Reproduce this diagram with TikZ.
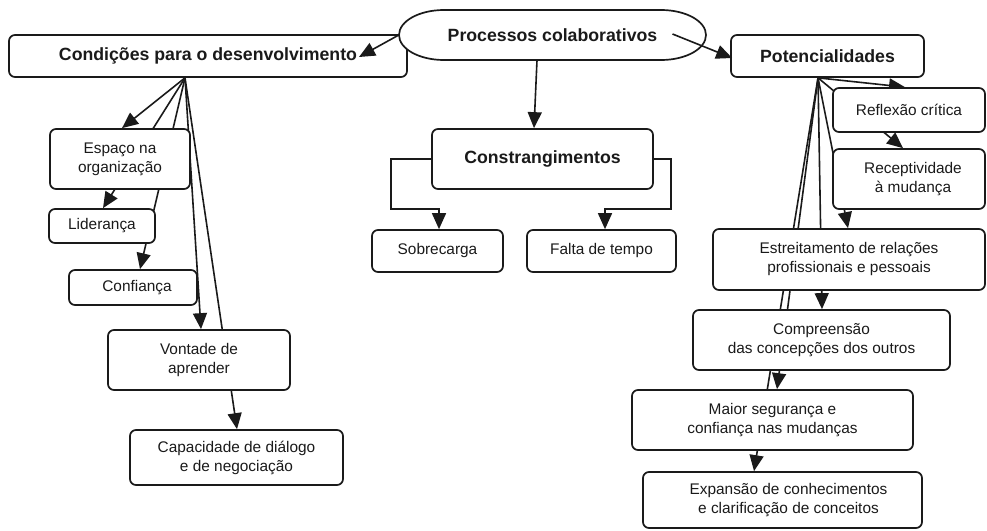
\documentclass[tikz,border=0pt]{standalone}
\usepackage{fontspec}
\setmainfont{Liberation Sans}
\usetikzlibrary{arrows.meta}
\definecolor{ink}{HTML}{1A1A1A}
\pgfdeclarelayer{back}
\pgfdeclarelayer{front}
\pgfsetlayers{back,main,front}

\begin{document}
\begin{tikzpicture}[x=1pt,y=-1pt,
  box/.style={draw=ink, line width=1.7pt, rounded corners=6pt, fill=white,
    align=center, inner sep=0pt, text=ink, font=\fontsize{15.4}{19}\selectfont},
  headbox/.style={box, font=\fontsize{17.7}{21}\selectfont\bfseries},
  link/.style={draw=ink, line width=1.6pt},
  arr/.style={link, -{Triangle[length=16pt,width=14pt]}}]

\useasboundingbox (0,0) rectangle (987,530);

% ---- left branch: conditions ----
\node[headbox, minimum width=398pt, minimum height=42pt] (cond) at (208,56) {Condições para o desenvolvimento};
\node[box, minimum width=140pt, minimum height=60pt] (espaco) at (120,159) {Espaço na\\organização};
\node[box, minimum width=106pt, minimum height=34pt] (lider) at (102,226) {Liderança};
\node[box, minimum width=128pt, minimum height=35pt] (confi) at (133,287.5) {\hspace*{8pt}Confiança};
\node[box, minimum width=182pt, minimum height=60pt] (vontade) at (199,360) {Vontade de\\aprender};
\node[box, minimum width=213pt, minimum height=55pt] (capac) at (236.5,457.5) {Capacidade de diálogo\\e de negociação};

% ---- central oval ----
\path[draw=ink, line width=1.7pt, fill=white]
  (444,10) -- (661,10)
  .. controls (685.9,10) and (706,21.2) .. (706,35)
  .. controls (706,48.8) and (685.9,60) .. (661,60)
  -- (444,60)
  .. controls (419.1,60) and (399,48.8) .. (399,35)
  .. controls (399,21.2) and (419.1,10) .. (444,10) -- cycle;
\node[inner sep=0pt, minimum width=307pt, minimum height=50pt, text=ink,
  font=\fontsize{17.7}{21}\selectfont\bfseries] (proc) at (552.5,35) {Processos colaborativos};

% ---- middle branch: constraints ----
\node[headbox, minimum width=221pt, minimum height=60pt] (constr) at (542.5,159) {Constrangimentos};
\node[box, minimum width=131pt, minimum height=42pt] (sobre) at (437.5,251) {Sobrecarga};
\node[box, minimum width=149pt, minimum height=42pt] (falta) at (601.5,251) {Falta de tempo};

% ---- right branch: potentialities ----
\node[headbox, minimum width=193pt, minimum height=42pt] (potenc) at (827.5,56) {Potencialidades};
\node[box, minimum width=152pt, minimum height=44pt] (reflex) at (909,110) {Reflexão crítica};
\node[box, minimum width=152pt, minimum height=60pt] (recep) at (909,179) {\hspace*{8pt}Receptividade\\\hspace*{8pt}à mudança};
\node[box, minimum width=272pt, minimum height=61pt] (estr) at (849,259.5) {Estreitamento de relações\\profissionais e pessoais};
\node[box, minimum width=257pt, minimum height=60pt] (compr) at (821.5,340) {Compreensão\\das concepções dos outros};
\node[box, minimum width=281pt, minimum height=60pt] (maior) at (772.5,420) {Maior segurança e\\confiança nas mudanças};
\node[box, minimum width=279pt, minimum height=56pt] (expan) at (782.5,500) {\hspace*{12pt}Expansão de conhecimentos\\\hspace*{12pt}e clarificação de conceitos};

% ---- connectors running behind the boxes ----
\begin{pgfonlayer}{back}
  \coordinate (lfan) at (cond.south -| 185,0);
  \draw[arr] (lfan) -- (espaco.north -| 122,0);
  \draw[arr] (lfan) -- (lider.north -| 103,0);
  \draw[arr] (lfan) -- (confi.north -| 140,0);
  \draw[arr] (lfan) -- (vontade.north -| 201,0);
  \draw[arr] (lfan) -- (capac.north -| 237,0);

  \coordinate (rfan) at (potenc.south -| 818,0);
  \draw[arr] (rfan) -- (reflex.north -| 905,0);
  \draw[arr] (rfan) -- (recep.north -| 903,0);
  \draw[arr] (rfan) -- (estr.north -| 848,0);
  \draw[arr] (rfan) -- (compr.north -| 822,0);
  \draw[arr] (rfan) -- (maior.north -| 777,0);
  \draw[arr] (rfan) -- (expan.north -| 754,0);

  \draw[arr] (proc.south -| 537,0) -- (constr.north -| 534,0);
  \draw[arr] (constr.west) -| (391,209) -| (sobre.north -| 439,0);
  \draw[arr] (constr.east) -| (671,209) -| (falta.north -| 605,0);
\end{pgfonlayer}

% ---- arrows leaving the oval, drawn on top ----
\begin{pgfonlayer}{front}
  \draw[arr] (proc.west) -- ([xshift=151pt,yshift=-1pt]cond.center);
  \draw[arr] ([xshift=120pt,yshift=1pt]proc.center) -- ([xshift=2pt,yshift=-2pt]potenc.west);
\end{pgfonlayer}

\end{tikzpicture}
\end{document}
